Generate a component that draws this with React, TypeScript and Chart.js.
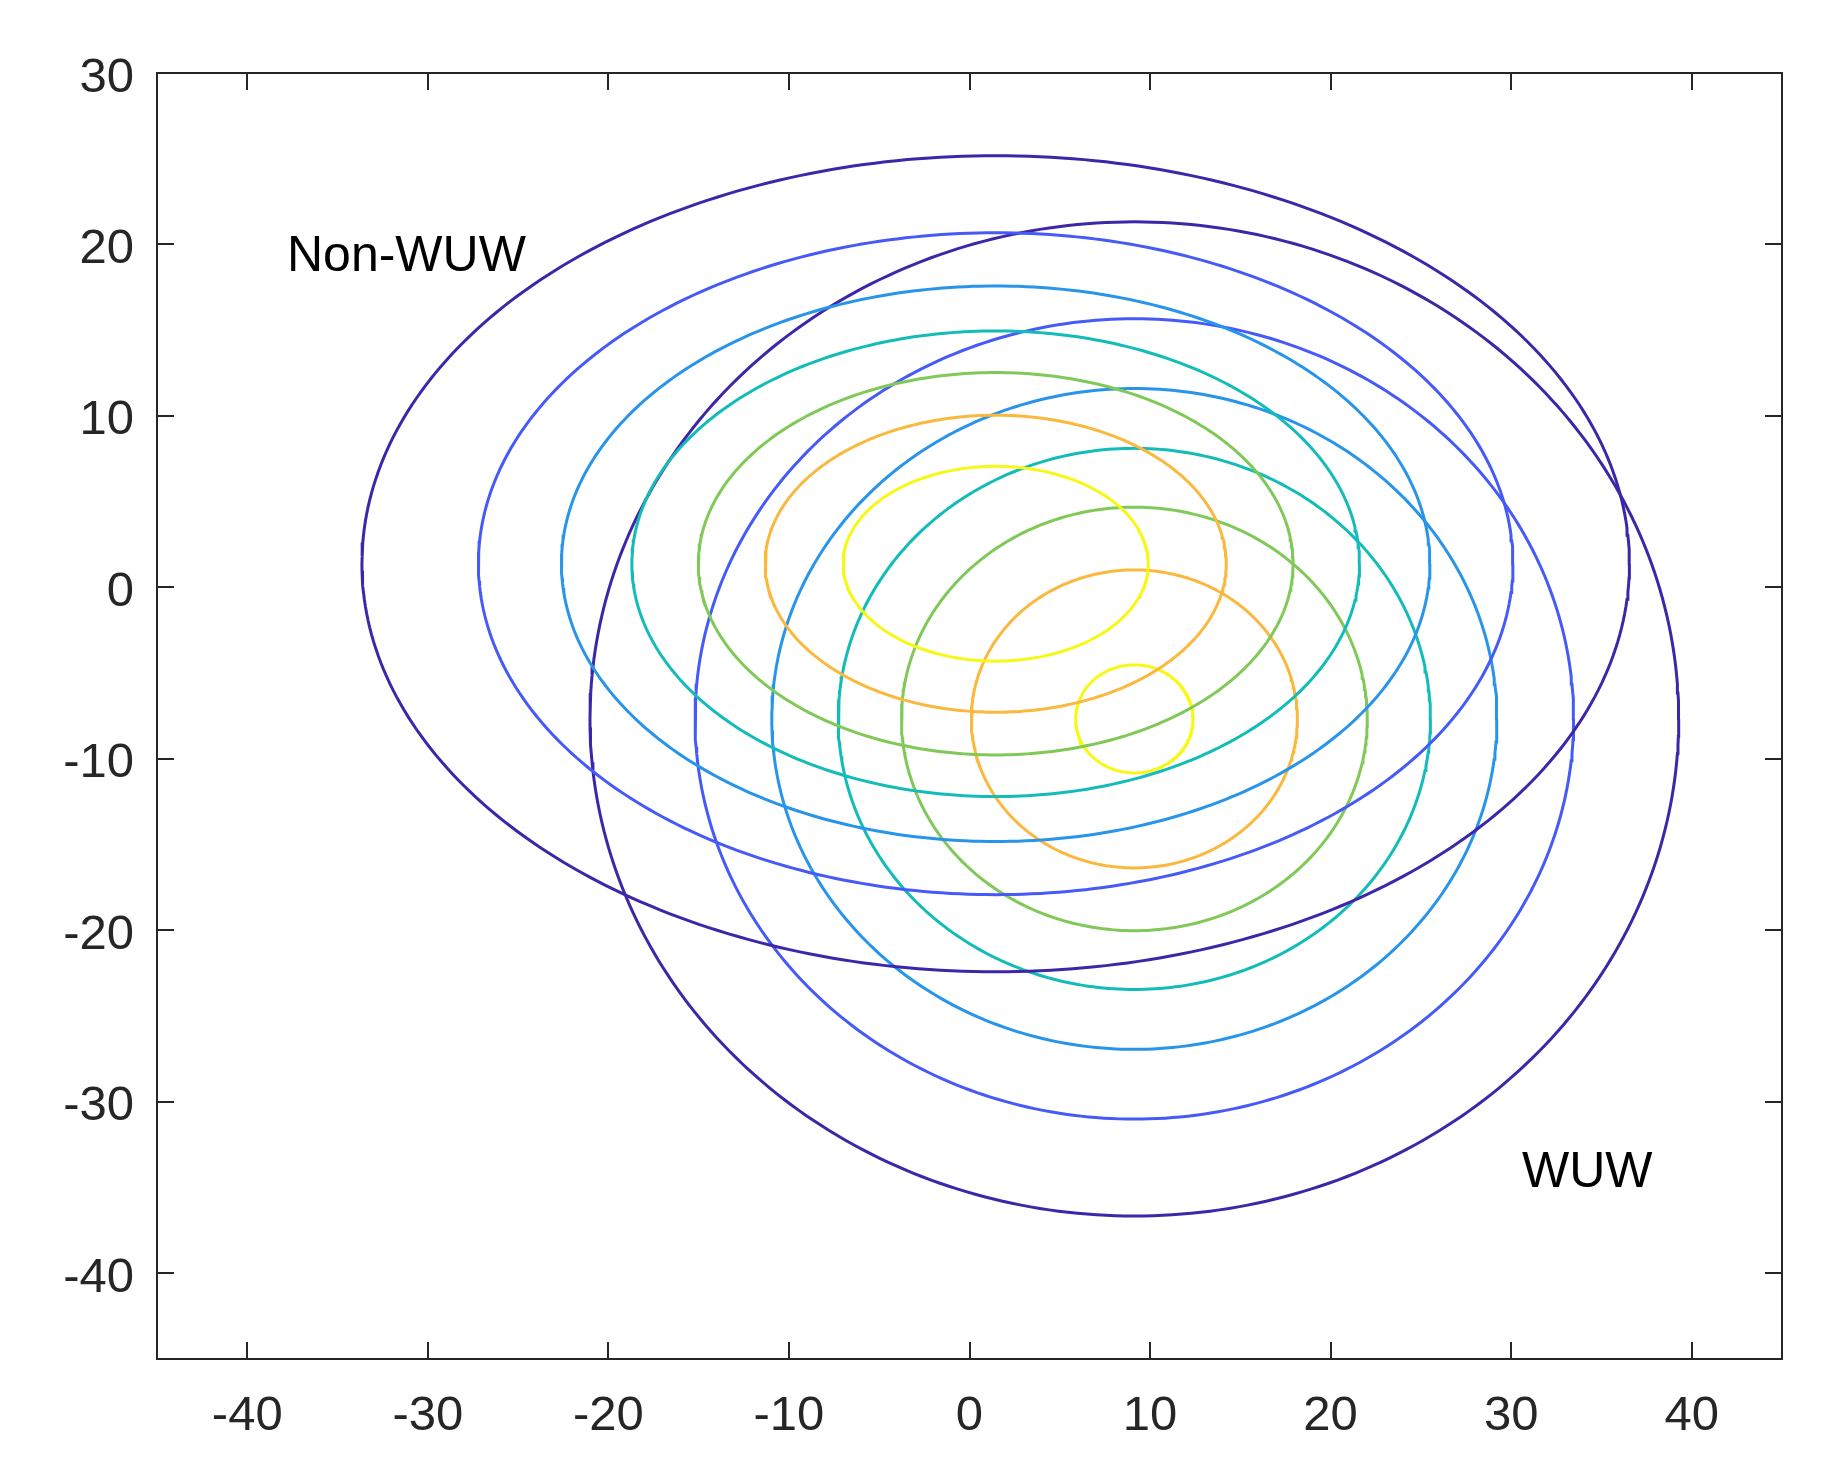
import React, { useEffect, useRef } from "react";
import { Chart, registerables } from "chart.js";

Chart.register(...registerables);

// Axis ticks
const xTicks = [-40, -30, -20, -10, 0, 10, 20, 30, 40];
const yTicks = [-40, -30, -20, -10, 0, 10, 20, 30];

// Contour level colours (outermost -> innermost)
const levelColors = ["#3E26A8", "#465AF7", "#2894EA", "#13BCB8", "#80C958", "#FBB83E", "#F7F816"];

// Non-WUW contour ellipses (center + semi-axes per level)
const nonWuwCenterX = 1.45;
const nonWuwCenterY = 1.38;
const nonWuwSemiX = [35.1, 28.65, 24.05, 20.15, 16.47, 12.77, 8.45];
const nonWuwSemiY = [23.8, 19.3, 16.2, 13.58, 11.15, 8.66, 5.68];

// WUW contour ellipses
const wuwCenterX = 9.13;
const wuwCenterY = -7.67;
const wuwSemiX = [30.15, 24.33, 20.08, 16.4, 12.9, 9.03, 3.25];
const wuwSemiY = [28.99, 23.34, 19.27, 15.78, 12.35, 8.69, 3.15];

// Text annotations
const annotationText = ["Non-WUW", "WUW"];
const annotationX = [-37.8, 30.6];
const annotationY = [18.47, -34.97];

const FONT = '"Liberation Sans", Arial, Helvetica, sans-serif';

function ellipsePoints(cx: number, cy: number, a: number, b: number) {
  const pts: { x: number; y: number }[] = [];
  const n = 360;
  for (let i = 0; i <= n; i++) {
    const t = (i / n) * Math.PI * 2;
    pts.push({ x: cx + a * Math.cos(t), y: cy + b * Math.sin(t) });
  }
  return pts;
}

const framePlugin = {
  id: "frame",
  afterDatasetsDraw(chart: any) {
    const { ctx, chartArea, scales } = chart;
    const { left, right, top, bottom } = chartArea;
    const xs = scales.x;
    const ys = scales.y;
    const tl = 17;
    ctx.save();
    ctx.strokeStyle = "#262626";
    ctx.lineWidth = 2;
    ctx.beginPath();
    ctx.rect(left, top, right - left, bottom - top);
    for (const v of xTicks) {
      const px = Math.round(xs.getPixelForValue(v));
      ctx.moveTo(px, bottom);
      ctx.lineTo(px, bottom - tl);
      ctx.moveTo(px, top);
      ctx.lineTo(px, top + tl);
    }
    for (const v of yTicks) {
      const py = Math.round(ys.getPixelForValue(v));
      ctx.moveTo(left, py);
      ctx.lineTo(left + tl, py);
      ctx.moveTo(right, py);
      ctx.lineTo(right - tl, py);
    }
    ctx.stroke();

    ctx.fillStyle = "#000000";
    ctx.font = `50px ${FONT}`;
    ctx.textAlign = "left";
    ctx.textBaseline = "alphabetic";
    annotationText.forEach((t, i) => {
      ctx.fillText(t, xs.getPixelForValue(annotationX[i]), ys.getPixelForValue(annotationY[i]));
    });
    ctx.restore();
  },
};

export default function App() {
  const canvasRef = useRef<HTMLCanvasElement | null>(null);

  useEffect(() => {
    const canvas = canvasRef.current;
    if (!canvas) return;

    const datasets: any[] = [];
    nonWuwSemiX.forEach((a, i) => {
      datasets.push({
        label: `Non-WUW ${i + 1}`,
        data: ellipsePoints(nonWuwCenterX, nonWuwCenterY, a, nonWuwSemiY[i]),
        borderColor: levelColors[i],
        borderWidth: 3,
        pointRadius: 0,
        showLine: true,
        fill: false,
        tension: 0,
      });
    });
    wuwSemiX.forEach((a, i) => {
      datasets.push({
        label: `WUW ${i + 1}`,
        data: ellipsePoints(wuwCenterX, wuwCenterY, a, wuwSemiY[i]),
        borderColor: levelColors[i],
        borderWidth: 3,
        pointRadius: 0,
        showLine: true,
        fill: false,
        tension: 0,
      });
    });

    const chart = new Chart(canvas, {
      type: "scatter",
      data: { datasets },
      options: {
        animation: false,
        responsive: false,
        maintainAspectRatio: false,
        devicePixelRatio: 1,
        layout: { padding: { left: 0, top: 73, right: 58, bottom: 0 } },
        plugins: {
          legend: { display: false },
          tooltip: { enabled: false },
        },
        scales: {
          x: {
            type: "linear",
            min: -45,
            max: 45,
            grid: { display: false },
            border: { display: false },
            afterBuildTicks: (scale: any) => {
              scale.ticks = xTicks.map((v) => ({ value: v }));
            },
            afterFit: (scale: any) => {
              scale.height = 120;
            },
            ticks: {
              color: "#262626",
              font: { family: FONT, size: 49 },
              padding: 20,
              maxRotation: 0,
              autoSkip: false,
              callback: (v: any) => String(v),
            },
          },
          y: {
            type: "linear",
            min: -45,
            max: 30,
            grid: { display: false },
            border: { display: false },
            afterBuildTicks: (scale: any) => {
              scale.ticks = yTicks.map((v) => ({ value: v }));
            },
            afterFit: (scale: any) => {
              scale.width = 157;
            },
            ticks: {
              color: "#262626",
              font: { family: FONT, size: 49 },
              padding: 15,
              labelOffset: 5,
              autoSkip: false,
              callback: (v: any) => String(v),
            },
          },
        },
      },
      plugins: [framePlugin],
    });

    return () => {
      chart.destroy();
    };
  }, []);

  return (
    <div style={{ position: "fixed", left: 0, top: 0, width: 1840, height: 1479, background: "#ffffff" }}>
      <canvas ref={canvasRef} width={1840} height={1479} style={{ display: "block", width: 1840, height: 1479 }} />
    </div>
  );
}
